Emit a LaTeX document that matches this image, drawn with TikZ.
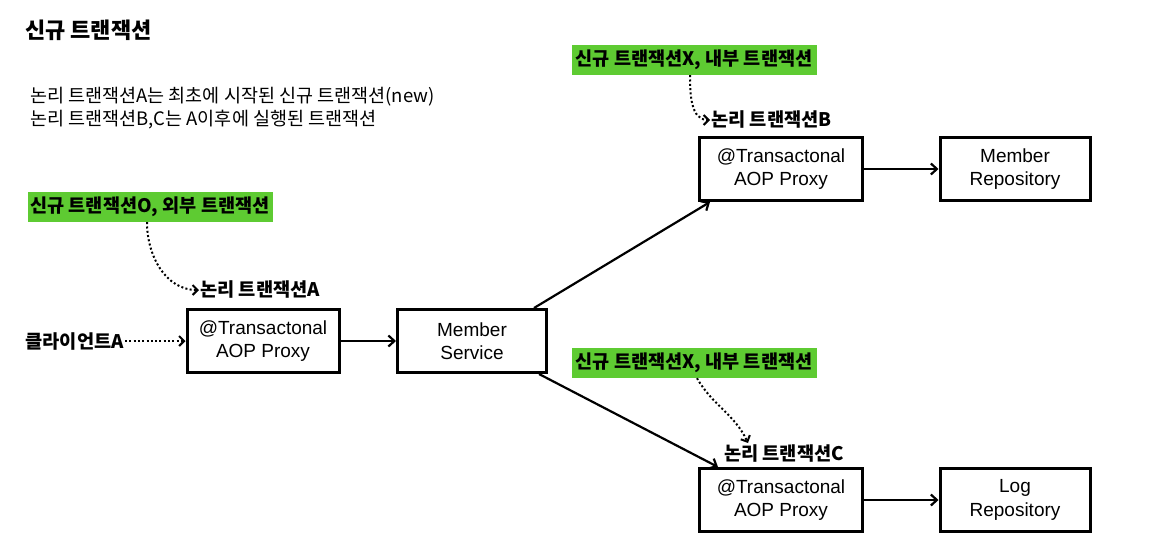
\documentclass[tikz,border=0pt]{standalone}
\usepackage{fontspec}
\setmainfont{Noto Sans CJK KR}
\newfontfamily\boxfont{Liberation Sans}
\usetikzlibrary{positioning,arrows.meta}
\definecolor{tagGreen}{RGB}{94,203,50}

\begin{document}
\begin{tikzpicture}[x=1pt,y=-1pt,
	box/.style={draw,line width=3pt,align=center,inner sep=2pt,minimum height=63pt,font=\boxfont\fontsize{19}{23.5}\selectfont},
	tag/.style={fill=tagGreen,inner sep=0pt,minimum width=245pt,minimum height=30pt,font=\bfseries\fontsize{18.6}{20}\selectfont},
	lab/.style={inner sep=1pt,font=\bfseries\fontsize{18.7}{20}\selectfont},
	conn/.style={-{Straight Barb[length=6pt,width=11pt]},line width=2.2pt},
	hint/.style={-{Straight Barb[length=5pt,width=10pt]},line width=2pt,dash pattern=on 2pt off 2.3pt}]
				\useasboundingbox (0,0) rectangle (1158,549);
				
				\node (title) at (25,30) [anchor=west,inner sep=0pt,font=\bfseries\fontsize{22}{26}\selectfont] {신규 트랜잭션};
				\node (desc) at (30,108) [anchor=west,inner sep=0pt,align=left,font=\fontsize{18.5}{23}\selectfont] {논리 트랜잭션A는 최초에 시작된 신규 트랜잭션(new)\\논리 트랜잭션B,C는 A이후에 실행된 트랜잭션};
				
				\node (pA) at (263,341) [box,minimum width=152pt] {@Transactonal\\AOP Proxy};
				\node (s1) at (472,341) [box,minimum width=149pt] {Member\\Service};
				\node (pB) at (781,169) [box,minimum width=163pt] {@Transactonal\\AOP Proxy};
				\node (r1) at (1015,169) [box,minimum width=150pt] {Member\\Repository};
				\node (pC) at (781,500) [box,minimum width=163pt] {@Transactonal\\AOP Proxy};
				\node (r2) at (1015,500) [box,minimum width=150pt] {Log\\Repository};
				
				\node (c1) at (125,341) [lab,anchor=east] {클라이언트A};
				\node (lA) at (199,290) [lab,anchor=west] {논리 트랜잭션A};
				\node (lB) at (710,120) [lab,anchor=west] {논리 트랜잭션B};
				\node (lC) at (784,453) [lab] {논리 트랜잭션C};
				
				\node (g1) at (150,207) [tag] {신규 트랜잭션O, 외부 트랜잭션};
				\node (g2) at (694,60) [tag] {신규 트랜잭션X, 내부 트랜잭션};
				\node (g3) at (694,363) [tag] {신규 트랜잭션X, 내부 트랜잭션};
				
				\draw[hint] (c1) -- (pA);
				\draw[hint] ([xshift=-3pt]g1.south) to[out=-90,in=180] (lA.west);
				\draw[hint] ([xshift=-4pt]g2.south) to[out=-90,in=180] (lB.west);
				\draw[hint] ([xshift=3pt]g3.south) to[out=-60,in=115] ([xshift=-36pt]lC.north);
				
				\draw[conn] (pA) -- (s1);
				\draw[conn] ([xshift=-14pt]s1.north east) -- ([xshift=12pt]pB.south west);
				\draw[conn] ([xshift=-9pt]s1.south east) -- ([xshift=20pt]pC.north west);
				\draw[conn] (pB) -- (r1);
				\draw[conn] (pC) -- (r2);
			\end{tikzpicture}
\end{document}
